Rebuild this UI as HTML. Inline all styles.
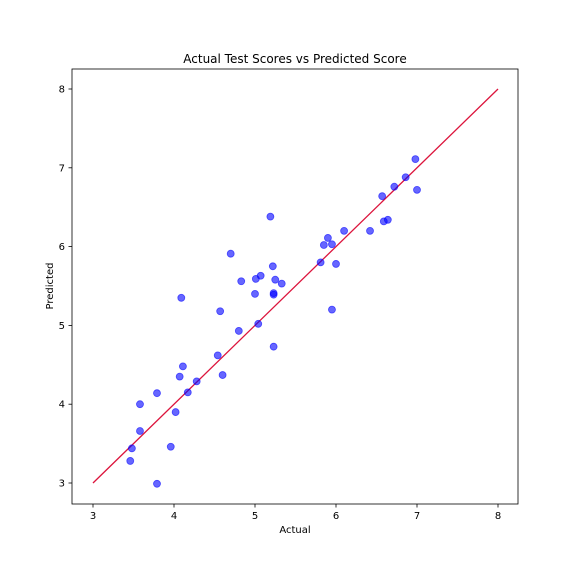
<!DOCTYPE html>
<html><head><meta charset="utf-8"><style>
body{margin:0;background:#fff;}
svg text{font-family:"DejaVu Sans","Liberation Sans",sans-serif;fill:#000;}
</style></head><body>
<svg id="chart" width="576" height="576" xmlns="http://www.w3.org/2000/svg">
<rect width="576" height="576" fill="#fff"/>
<text x="295" y="63" font-size="12" text-anchor="middle">Actual Test Scores vs Predicted Score</text>
<text x="295" y="533" font-size="10" text-anchor="middle">Actual</text>
<text x="53" y="286" font-size="10" text-anchor="middle" transform="rotate(-90 53 286)">Predicted</text>
<g id="ticks"></g>
<g id="line"></g>
<g id="points"></g>
<rect x="72" y="69" width="446" height="435" fill="none" stroke="#000" stroke-width="0.8"/>
</svg>
<script>
const xs=[3.46,3.48,3.58,3.58,3.79,3.79,3.96,4.02,4.07,4.09,4.11,4.17,4.28,4.54,4.57,4.60,4.70,4.80,4.83,5.00,5.01,5.04,5.07,5.19,5.22,5.23,5.23,5.23,5.25,5.33,5.81,5.85,5.90,5.95,5.95,6.00,6.10,6.42,6.57,6.59,6.64,6.72,6.86,6.98,7.00];
const ys=[3.28,3.44,4.00,3.66,4.14,2.99,3.46,3.90,4.35,5.35,4.48,4.15,4.29,4.62,5.18,4.37,5.91,4.93,5.56,5.40,5.59,5.02,5.63,6.38,5.75,5.41,5.39,4.73,5.58,5.53,5.80,6.02,6.11,6.03,5.20,5.78,6.20,6.20,6.64,6.32,6.34,6.76,6.88,7.11,6.72];
const xTicks=[3,4,5,6,7,8];
const yTicks=[3,4,5,6,7,8];
const lineVals=[3,8];
const sx=v=>93+(v-3)*81;
const sy=v=>483-(v-3)*78.8;
const NS="http://www.w3.org/2000/svg";
const T=document.getElementById('ticks');
function mk(tag,attrs,parent){const e=document.createElementNS(NS,tag);for(const k in attrs)e.setAttribute(k,attrs[k]);parent.appendChild(e);return e;}
xTicks.forEach(t=>{
  const l=mk('line',{x1:sx(t),x2:sx(t),y1:504,y2:507.5,stroke:'#000','stroke-width':0.8},T);
  
  
  const tx=mk('text',{x:sx(t),y:519,'font-size':10,'text-anchor':'middle'},T);
  tx.textContent=t;
  
  
});
yTicks.forEach(t=>{
  const l=mk('line',{x1:68.5,x2:72,y1:sy(t),y2:sy(t),stroke:'#000','stroke-width':0.8},T);
  
  
  const tx=mk('text',{x:65,y:sy(t)+3.5,'font-size':10,'text-anchor':'end'},T);
  tx.textContent=t;
  
  
});
const ln=mk('line',{x1:sx(lineVals[0]),y1:sy(lineVals[0]),x2:sx(lineVals[1]),y2:sy(lineVals[1]),stroke:'#dc143c','stroke-width':1.3},document.getElementById('line'));


const P=document.getElementById('points');
xs.forEach((x,i)=>{
  const c=mk('circle',{cx:sx(x),cy:sy(ys[i]),r:3.5,fill:'#0000ff','fill-opacity':0.6,stroke:'#0000ff','stroke-opacity':0.6,'stroke-width':0.8},P);
  
  
});
</script>
</body></html>
